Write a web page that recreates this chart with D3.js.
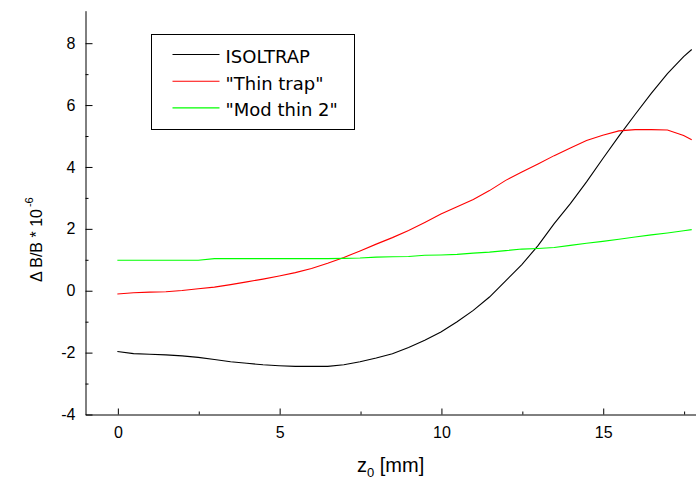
<!DOCTYPE html>
<html>
<head>
<meta charset="utf-8">
<script src="https://cdn.jsdelivr.net/npm/d3@7"></script>
<style>
  html, body { margin: 0; padding: 0; background: #fff; }
  svg { display: block; }
  .tick text { font-family: "Liberation Sans", Arial, sans-serif; font-size: 16px; fill: #000; }
</style>
</head>
<body>
<svg id="chart" width="696" height="480"></svg>
<script>
// Axial position z0 in mm
const zValues = [0, 0.5, 1, 1.5, 2, 2.5, 3, 3.5, 4, 4.5, 5, 5.5, 6, 6.5, 7, 7.5, 8, 8.5,
  9, 9.5, 10, 10.5, 11, 11.5, 12, 12.5, 13, 13.5, 14, 14.5, 15, 15.5, 16, 16.5, 17, 17.5, 17.75];

// Field inhomogeneity ΔB/B (units of 1e-6) for each trap geometry
const isoltrap = [-1.98, -2.05, -2.07, -2.09, -2.12, -2.17, -2.24, -2.31, -2.36, -2.41, -2.44, -2.46,
  -2.46, -2.46, -2.41, -2.31, -2.19, -2.05, -1.85, -1.62, -1.35, -1.02, -0.65, -0.22, 0.30, 0.83,
  1.44, 2.15, 2.80, 3.50, 4.25, 4.98, 5.68, 6.36, 7.00, 7.55, 7.78];
const thinTrap = [-0.12, -0.08, -0.06, -0.05, -0.01, 0.05, 0.10, 0.18, 0.27, 0.36, 0.46, 0.57,
  0.70, 0.87, 1.06, 1.27, 1.49, 1.70, 1.93, 2.19, 2.46, 2.70, 2.93, 3.22, 3.55, 3.82, 4.08, 4.35,
  4.60, 4.84, 5.01, 5.15, 5.19, 5.19, 5.18, 5.00, 4.86];
const modThin2 = [0.97, 0.97, 0.97, 0.97, 0.97, 0.97, 1.02, 1.02, 1.02, 1.02, 1.02, 1.02,
  1.02, 1.02, 1.03, 1.04, 1.07, 1.08, 1.09, 1.13, 1.14, 1.16, 1.20, 1.23, 1.28, 1.33, 1.35, 1.38,
  1.45, 1.52, 1.58, 1.65, 1.72, 1.79, 1.85, 1.92, 1.96];

const seriesNames = ["ISOLTRAP", "\"Thin trap\"", "\"Mod thin 2\""];
const seriesColors = ["#000000", "#ff0000", "#00ff00"];

const xMajorTicks = [0, 5, 10, 15];
const xMinorTicks = [2.5, 7.5, 12.5, 17.5];
const yMajorTicks = [-4, -2, 0, 2, 4, 6, 8];
const yMinorTicks = [-3, -1, 1, 3, 5, 7];

const svg = d3.select("#chart");

const x = d3.scaleLinear().domain([-1, 18]).range([85, 699.8]);
const y = d3.scaleLinear().domain([-4, 9.05]).range([414, 10.2]);

// Plain hyphen for negative tick labels
const fmt = d => String(d);

// Axes with inward ticks
const axisG = svg.append("g").attr("transform", "translate(0.5,0.5)");

axisG.append("g").attr("transform", `translate(0,${y(-4)})`)
  .call(d3.axisBottom(x).tickValues(xMajorTicks).tickFormat(fmt)
    .tickSizeInner(-6).tickSizeOuter(0).tickPadding(12));
axisG.append("g").attr("transform", `translate(0,${y(-4)})`)
  .call(d3.axisBottom(x).tickValues(xMinorTicks).tickSizeInner(-3).tickSizeOuter(0).tickFormat(""))
  .select(".domain").remove();

axisG.append("g").attr("transform", `translate(${x(-1)},0)`)
  .call(d3.axisLeft(y).tickValues(yMajorTicks).tickFormat(fmt)
    .tickSizeInner(-7).tickSizeOuter(0).tickPadding(10));
axisG.append("g").attr("transform", `translate(${x(-1)},0)`)
  .call(d3.axisLeft(y).tickValues(yMinorTicks).tickSizeInner(-3).tickSizeOuter(0).tickFormat(""))
  .select(".domain").remove();

axisG.selectAll(".domain, .tick line").attr("stroke", "#000").attr("stroke-width", 1);

// Curves
const allSeries = [isoltrap, thinTrap, modThin2];
const line = d3.line().x((d, i) => x(zValues[i])).y(d => y(d));
svg.append("g").selectAll("path.curve")
  .data(allSeries)
  .join("path")
  .attr("class", "curve")
  .attr("fill", "none")
  .attr("stroke", (d, i) => seriesColors[i])
  .attr("stroke-width", 1.1)
  .attr("d", line);

// Legend
const legend = svg.append("g").attr("transform", "translate(151.5,34.5)");
legend.append("rect").attr("width", 203).attr("height", 95)
  .attr("fill", "#fff").attr("stroke", "#000").attr("stroke-width", 1);
seriesNames.forEach((name, i) => {
  const ly = 20 + i * 26.7;
  legend.append("line").attr("x1", 21).attr("x2", 68).attr("y1", ly).attr("y2", ly)
    .attr("stroke", seriesColors[i]).attr("stroke-width", 1.1);
  legend.append("text").attr("x", 74).attr("y", ly + 8.3)
    .attr("font-family", "'DejaVu Sans', sans-serif").attr("font-size", 18)
    .attr("fill", "#000").text(name);
});

// Axis titles
const xt = svg.append("text").attr("x", 357).attr("y", 472)
  .attr("font-family", "'Liberation Sans', Arial, sans-serif").attr("font-size", 20).attr("fill", "#000");
xt.append("tspan").text("z");
xt.append("tspan").attr("font-size", 13).attr("dy", 5).text("0");
xt.append("tspan").attr("dy", -5).text(" [mm]");

const yt = svg.append("text").attr("transform", "translate(42,282) rotate(-90)")
  .attr("font-family", "'Liberation Sans', Arial, sans-serif").attr("font-size", 16).attr("fill", "#000");
yt.append("tspan").text("\u0394 B/B  *  10");
yt.append("tspan").attr("font-size", 11).attr("dy", -9).attr("dx", 2).text("-6");
</script>
</body>
</html>
